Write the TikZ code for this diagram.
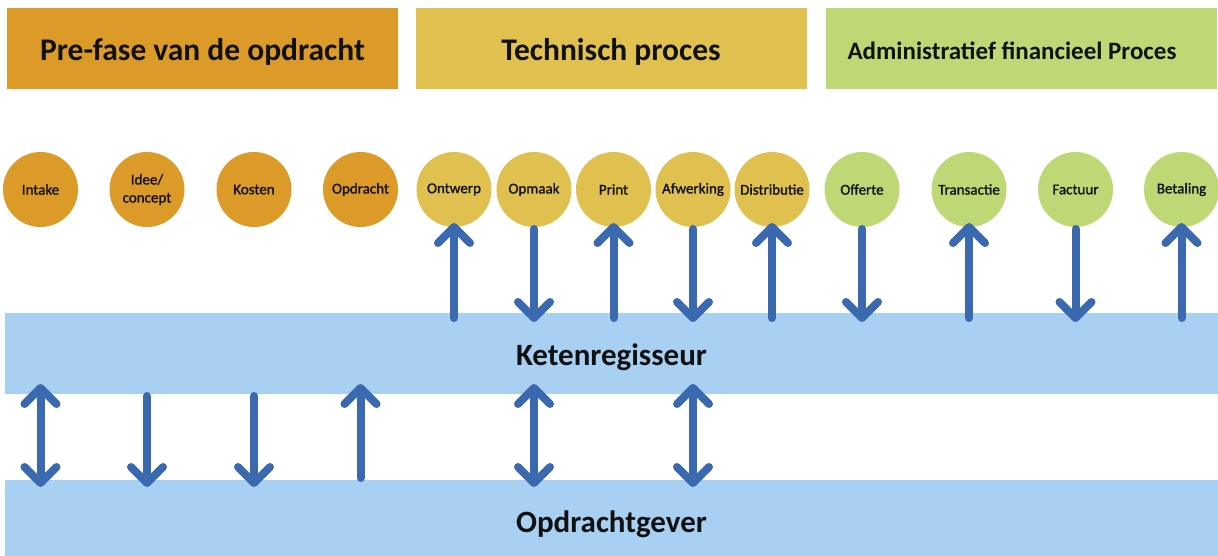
\documentclass[tikz,border=0pt]{standalone}
\usepackage{fontspec}
\setmainfont{Carlito}
\newfontfamily\lblfont[FakeBold=1.2]{Carlito}
\usetikzlibrary{arrows.meta}
\definecolor{cOr}{RGB}{220,155,40}
\definecolor{cYe}{RGB}{224,193,80}
\definecolor{cGr}{RGB}{190,216,118}
\definecolor{cBand}{RGB}{168,208,242}
\definecolor{cArr}{RGB}{59,105,176}
\definecolor{cTxt}{RGB}{17,17,17}
\tikzset{
  hdr/.style={rectangle, inner sep=0pt, outer sep=0pt, minimum width=391pt, minimum height=81pt},
  hdrtxt/.style={text=cTxt, font=\fontsize{31.5}{36}\selectfont\bfseries, inner sep=0pt},
  circ/.style={circle, inner sep=0pt, outer sep=0pt, minimum size=75pt, text=cTxt, align=center, font=\fontsize{15}{18}\lblfont},
  band/.style={rectangle, fill=cBand, inner sep=0pt, outer sep=0pt, minimum width=1213pt},
  bandtxt/.style={text=cTxt, font=\fontsize{31}{36}\selectfont\bfseries, inner sep=0pt},
  tipb/.tip={Straight Barb[round, length=16pt, width=32pt]},
  arr/.style={draw=cArr, line width=8pt, line cap=round, line join=round},
  up/.style={arr, -tipb},
  dn/.style={arr, -tipb},
  bi/.style={arr, tipb-tipb}
}
\begin{document}
\begin{tikzpicture}[x=1pt,y=-1pt]
\useasboundingbox (0,0) rectangle (1218,556);
% headers
\node[hdr, fill=cOr, label={[hdrtxt, yshift=-3pt]center:Pre-fase van de opdracht}] (h1) at (202.5,48.5) {};
\node[hdr, fill=cYe, label={[hdrtxt, yshift=-3pt]center:Technisch proces}] (h2) at (611,48.5) {};
\node[hdr, fill=cGr, label={[hdrtxt, font=\fontsize{25}{30}\selectfont\bfseries, yshift=-2pt, xshift=-9pt]center:Administratief financieel Proces}] (h3) at (1021,48.5) {};
% bands
\node[band, minimum height=81pt, label={[bandtxt, yshift=-4pt]center:Ketenregisseur}] (keten) at (611.5,353.5) {};
\node[band, minimum height=76pt, label={[bandtxt, yshift=-6pt]center:Opdrachtgever}] (og) at (611.5,518) {};
% circles
\node[circ, fill=cOr] (intake) at (40.5,189.5) {Intake};
\node[circ, fill=cOr] (idee) at (147,189.5) {Idee/\\concept};
\node[circ, fill=cOr] (kosten) at (254,189.5) {Kosten};
\node[circ, fill=cOr] (opdracht) at (360.5,189.5) {Opdracht};
\node[circ, fill=cYe] (ontwerp) at (454,189.5) {Ontwerp};
\node[circ, fill=cYe] (opmaak) at (534,189.5) {Opmaak};
\node[circ, fill=cYe] (print) at (613.5,189.5) {Print};
\node[circ, fill=cYe] (afwerking) at (693,189.5) {Afwerking};
\node[circ, fill=cYe] (distributie) at (772,189.5) {Distributie};
\node[circ, fill=cGr] (offerte) at (862,189.5) {Offerte};
\node[circ, fill=cGr] (transactie) at (969,189.5) {Transactie};
\node[circ, fill=cGr] (factuur) at (1075.5,189.5) {Factuur};
\node[circ, fill=cGr] (betaling) at (1181.5,189.5) {Betaling};
% upper arrows
\foreach \n in {ontwerp,print,distributie,transactie,betaling}{
  \draw[up, shorten <=-5pt, shorten >=-4pt] (\n.south |- keten.north) -- (\n.south);
}
\foreach \n in {opmaak,afwerking,offerte,factuur}{
  \draw[dn, shorten <=2pt, shorten >=-9pt] (\n.south) -- (\n.south |- keten.north);
}
% lower arrows
\foreach \n in {intake,opmaak,afwerking}{
  \draw[bi, shorten <=-10pt, shorten >=-7pt] (\n.south |- keten.south) -- (\n.south |- og.north);
}
\foreach \n in {idee,kosten}{
  \draw[dn, shorten <=2pt, shorten >=-7pt] (\n.south |- keten.south) -- (\n.south |- og.north);
}
\draw[up, shorten <=2pt, shorten >=-10pt] (opdracht.south |- og.north) -- (opdracht.south |- keten.south);
\end{tikzpicture}
\end{document}
